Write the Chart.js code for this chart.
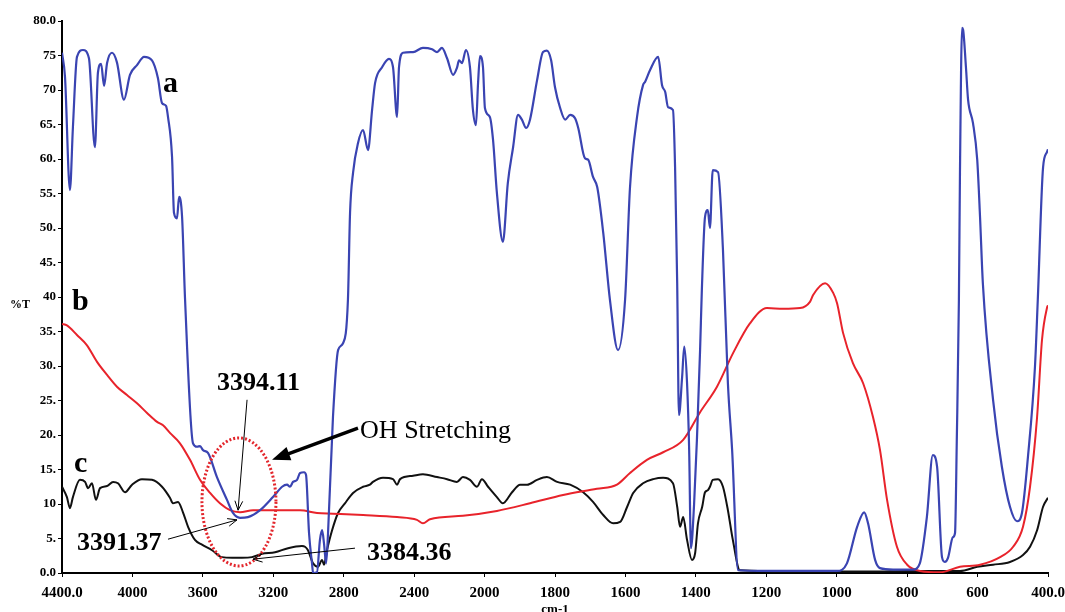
<!DOCTYPE html>
<html>
<head>
<meta charset="utf-8">
<script src="https://cdn.jsdelivr.net/npm/chart.js@4.4.1/dist/chart.umd.min.js"></script>
<style>
  body { margin: 0; background: #fff; }
  canvas { display: block; }
</style>
</head>
<body>
<canvas id="ftirChart" width="1065" height="612"></canvas>
<script>
// wavenumber (cm-1) and %T
let aWn = [4400, 4383, 4355, 4338, 4315, 4281, 4247, 4213, 4196, 4178, 4161, 4144, 4116, 4088, 4048, 4014, 3974, 3934, 3889, 3855, 3832, 3809, 3798, 3775, 3764, 3747, 3735, 3718, 3701, 3656, 3633, 3616, 3599, 3571, 3520, 3463, 3429, 3389, 3344, 3275, 3202, 3150, 3122, 3105, 3088, 3065, 3048, 3025, 3014, 2997, 2980, 2974, 2952, 2935, 2923, 2912, 2900, 2889, 2861, 2832, 2804, 2776, 2764, 2747, 2719, 2690, 2662, 2639, 2622, 2582, 2543, 2520, 2497, 2486, 2463, 2406, 2350, 2298, 2270, 2242, 2213, 2179, 2157, 2145, 2128, 2106, 2083, 2066, 2049, 2037, 2026, 2009, 1999, 1985, 1976, 1965, 1948, 1934, 1919, 1905, 1894, 1882, 1871, 1851, 1834, 1823, 1811, 1800, 1786, 1771, 1757, 1743, 1734, 1715, 1706, 1692, 1680, 1663, 1644, 1621, 1601, 1587, 1567, 1550, 1544, 1530, 1507, 1496, 1487, 1479, 1465, 1459, 1453, 1448, 1439, 1433, 1425, 1419, 1414, 1405, 1397, 1388, 1383, 1374, 1366, 1360, 1352, 1337, 1323, 1309, 1297, 1280, 1200, 1100, 999, 971, 942, 922, 911, 891, 877, 840, 783, 764, 744, 727, 715, 701, 693, 684, 670, 664, 659, 653, 650, 644, 641, 633, 627, 613, 601, 593, 585, 556, 531, 508, 488, 474, 457, 437, 429, 414, 403, 400];
let aT = [75.4, 71.9, 55.5, 64.6, 74.8, 75.8, 74.6, 61.7, 72.5, 73.8, 70.6, 73.9, 75.4, 74.0, 68.6, 72.2, 73.6, 74.8, 74.3, 71.7, 68.1, 67.7, 66.1, 60.3, 52.2, 51.4, 54.5, 51.6, 39.6, 18.8, 18.3, 18.4, 17.8, 17.4, 13.9, 10.6, 8.7, 8.0, 8.1, 9.1, 11.0, 12.5, 12.8, 12.5, 13.2, 13.5, 14.5, 14.6, 14.2, 5.8, 1.4, 0.0, 0.1, 4.8, 6.2, 4.3, 1.4, 5.8, 22.6, 32.3, 33.3, 39.6, 52.2, 58.0, 62.3, 64.2, 61.3, 67.1, 71.0, 73.3, 74.5, 73.3, 66.1, 73.3, 75.4, 75.5, 76.1, 75.9, 75.5, 76.1, 74.6, 72.2, 73.2, 74.3, 73.9, 75.8, 73.3, 67.1, 64.9, 71.0, 74.9, 73.3, 67.4, 66.1, 62.8, 55.1, 48.0, 56.5, 61.7, 66.4, 65.7, 64.5, 65.7, 71.4, 75.5, 75.7, 74.3, 70.4, 67.5, 65.7, 66.4, 65.9, 64.5, 60.1, 59.9, 57.4, 55.9, 49.3, 39.6, 32.3, 39.6, 55.9, 66.1, 70.7, 71.2, 72.9, 74.8, 70.7, 69.7, 67.5, 67.1, 58.8, 42.0, 22.9, 28.4, 32.8, 27.5, 17.8, 3.6, 10.0, 19.3, 32.3, 41.0, 51.6, 52.6, 50.0, 58.4, 58.1, 46.8, 27.5, 17.8, 0.4, 0.3, 0.3, 0.3, 1.4, 6.7, 8.8, 7.2, 1.9, 0.7, 0.5, 0.5, 1.4, 8.1, 17.1, 15.4, 2.3, 1.6, 2.2, 5.2, 5.8, 19.3, 39.6, 58.0, 79.0, 78.7, 73.3, 68.6, 65.2, 59.9, 51.6, 42.0, 25.1, 15.4, 9.6, 7.5, 8.7, 16.8, 29.9, 39.6, 58.8, 61.0, 61.4];

let bWn = [4400, 4372, 4315, 4258, 4201, 4144, 4088, 4031, 3974, 3917, 3860, 3826, 3787, 3730, 3673, 3616, 3559, 3503, 3446, 3389, 3315, 3048, 2952, 2861, 2690, 2497, 2384, 2350, 2310, 2123, 1965, 1871, 1777, 1681, 1624, 1587, 1539, 1493, 1436, 1388, 1340, 1294, 1246, 1198, 1152, 1104, 1076, 1067, 1033, 1010, 999, 982, 954, 925, 897, 877, 857, 829, 800, 764, 707, 650, 593, 536, 499, 471, 451, 431, 417, 403, 400];
let bT = [36.1, 35.9, 34.5, 33.0, 30.6, 28.7, 27.0, 25.8, 24.6, 23.2, 21.9, 21.4, 20.3, 18.8, 16.4, 13.5, 11.6, 10.1, 9.1, 8.8, 9.1, 9.1, 8.7, 8.6, 8.4, 8.1, 7.7, 7.2, 7.8, 8.3, 9.0, 10.1, 11.3, 12.2, 12.8, 14.5, 16.4, 17.5, 19.3, 23.3, 27.0, 31.9, 36.2, 38.4, 38.3, 38.4, 39.3, 40.3, 42.0, 40.6, 39.1, 34.8, 30.4, 27.5, 22.6, 17.8, 10.6, 3.8, 1.2, 0.3, 0.1, 0.9, 1.2, 2.3, 3.8, 6.7, 12.5, 22.6, 33.8, 38.4, 38.8];

let cWn = [4400, 4372, 4355, 4338, 4298, 4269, 4252, 4230, 4207, 4184, 4144, 4110, 4082, 4042, 4002, 3946, 3889, 3832, 3787, 3770, 3741, 3713, 3684, 3645, 3605, 3548, 3491, 3434, 3378, 3321, 3264, 3190, 3116, 3037, 3020, 3003, 2974, 2946, 2923, 2912, 2895, 2866, 2832, 2793, 2747, 2690, 2651, 2634, 2577, 2520, 2497, 2480, 2406, 2350, 2270, 2213, 2157, 2123, 2083, 2043, 2015, 1990, 1965, 1948, 1922, 1899, 1879, 1851, 1823, 1794, 1757, 1720, 1692, 1663, 1635, 1615, 1595, 1578, 1550, 1521, 1493, 1465, 1453, 1445, 1436, 1425, 1411, 1402, 1394, 1382, 1374, 1366, 1360, 1352, 1337, 1323, 1309, 1295, 1275, 1100, 900, 800, 650, 601, 556, 508, 471, 451, 431, 414, 400];
let cT = [12.5, 11.0, 9.4, 11.0, 13.5, 13.2, 12.3, 13.0, 10.6, 12.3, 12.6, 13.2, 13.0, 11.7, 12.8, 13.6, 13.5, 12.5, 10.9, 10.1, 10.3, 8.8, 6.7, 4.8, 4.1, 3.3, 2.3, 2.2, 2.2, 2.3, 2.8, 3.0, 3.6, 3.9, 3.8, 3.3, 1.4, 0.9, 1.9, 1.2, 3.3, 6.2, 8.7, 10.1, 11.6, 12.5, 12.8, 13.2, 13.8, 13.6, 12.8, 13.6, 14.1, 14.3, 13.9, 13.6, 13.2, 13.9, 13.5, 12.5, 13.6, 12.5, 11.0, 10.1, 11.7, 12.8, 12.8, 13.5, 13.9, 13.2, 12.8, 11.7, 10.3, 8.4, 7.2, 7.4, 9.6, 11.6, 13.0, 13.6, 13.8, 13.0, 9.6, 6.7, 8.1, 4.8, 1.9, 2.9, 7.2, 9.6, 11.7, 12.0, 12.5, 13.5, 13.6, 12.5, 9.1, 4.8, 0.4, 0.2, 0.2, 0.3, 0.3, 0.9, 1.2, 1.6, 2.6, 3.8, 6.2, 9.6, 10.9];

let xTicks = [4400, 4000, 3600, 3200, 2800, 2400, 2000, 1800, 1600, 1400, 1200, 1000, 800, 600, 400];
let xTickLabels = ['4400.0', '4000', '3600', '3200', '2800', '2400', '2000', '1800', '1600', '1400', '1200', '1000', '800', '600', '400.0'];
let yTickLabels = ['0.0', '5.', '10', '15.', '20.', '25.', '30.', '35.', '40', '45.', '50.', '55.', '60.', '65.', '70', '75', '80.0'];

// the spectrometer axis halves its scale below 2000 cm-1
function toAxis(wn) {
    return wn > 2000 ? 2000 + (wn - 2000) / 2 : wn;
}

function points(wn, t) {
    return wn.map((w, i) => ({ x: toAxis(w), y: t[i] }));
}

let serif = "'Liberation Serif', 'DejaVu Serif', serif";

// labels, arrows and the dotted ellipse over the OH band
let notes = {
    id: 'notes',
    afterDraw(chart) {
        let ctx = chart.ctx;
        let xs = chart.scales.x;
        let ys = chart.scales.y;
        let X = wn => xs.getPixelForValue(toAxis(wn));
        let Y = v => ys.getPixelForValue(v);

        ctx.save();
        ctx.fillStyle = '#000';
        ctx.textBaseline = 'alphabetic';
        ctx.textAlign = 'left';

        ctx.font = 'bold 30px ' + serif;
        ctx.fillText('a', X(3826), Y(69.7));
        ctx.fillText('b', X(4343), Y(38.1));
        ctx.fillText('c', X(4332), Y(14.6));

        ctx.font = 'bold 26px ' + serif;
        ctx.fillText('3394.11', X(3520), Y(26.5));
        ctx.fillText('3391.37', X(4315), Y(3.3));
        ctx.fillText('3384.36', X(2668), Y(1.9));

        ctx.font = '26px ' + serif;
        ctx.fillText('OH Stretching', X(2707), Y(19.6));

        // dotted ellipse
        ctx.strokeStyle = '#e3262c';
        ctx.lineWidth = 3;
        ctx.setLineDash([2, 2]);
        ctx.beginPath();
        ctx.ellipse(X(3395), Y(10.3), 37, 64, 0, 0, Math.PI * 2);
        ctx.stroke();
        ctx.setLineDash([]);

        // thick arrow from the OH label
        let x1 = X(2719), y1 = Y(21.0), x2 = X(3207), y2 = Y(16.4);
        let ang = Math.atan2(y2 - y1, x2 - x1);
        ctx.strokeStyle = '#000';
        ctx.lineWidth = 3.5;
        ctx.beginPath();
        ctx.moveTo(x1, y1);
        ctx.lineTo(x2 - 10 * Math.cos(ang), y2 - 10 * Math.sin(ang));
        ctx.stroke();
        ctx.beginPath();
        ctx.moveTo(x2, y2);
        ctx.lineTo(x2 - 18 * Math.cos(ang) + 7 * Math.sin(ang), y2 - 18 * Math.sin(ang) - 7 * Math.cos(ang));
        ctx.lineTo(x2 - 18 * Math.cos(ang) - 7 * Math.sin(ang), y2 - 18 * Math.sin(ang) + 7 * Math.cos(ang));
        ctx.closePath();
        ctx.fill();

        // thin arrows to the minima
        let thin = [
            [3349, 25.1, 3400, 9.1],
            [3798, 4.9, 3406, 7.7],
            [2736, 3.6, 3315, 2.0]
        ];
        ctx.lineWidth = 1;
        thin.forEach(a => {
            let ax = X(a[0]), ay = Y(a[1]), bx = X(a[2]), by = Y(a[3]);
            let t = Math.atan2(by - ay, bx - ax);
            ctx.beginPath();
            ctx.moveTo(ax, ay);
            ctx.lineTo(bx, by);
            ctx.moveTo(bx - 10 * Math.cos(t - 0.4), by - 10 * Math.sin(t - 0.4));
            ctx.lineTo(bx, by);
            ctx.lineTo(bx - 10 * Math.cos(t + 0.4), by - 10 * Math.sin(t + 0.4));
            ctx.stroke();
        });

        // axis titles
        ctx.font = 'bold 12px ' + serif;
        ctx.fillText('%T', 10, 308);
        ctx.font = 'bold 13px ' + serif;
        ctx.textAlign = 'center';
        ctx.textBaseline = 'top';
        ctx.fillText('cm-1', (chart.chartArea.left + chart.chartArea.right) / 2, 603);
        ctx.restore();
    }
};

let ftirChart = new Chart(document.getElementById('ftirChart'), {
    type: 'line',
    data: {
        datasets: [{
            label: 'a',
            data: points(aWn, aT),
            borderColor: '#3a44b2',
            borderWidth: 2.2,
            pointRadius: 0,
            cubicInterpolationMode: 'monotone'
        }, {
            label: 'b',
            data: points(bWn, bT),
            borderColor: '#e8232b',
            borderWidth: 2,
            pointRadius: 0,
            cubicInterpolationMode: 'monotone'
        }, {
            label: 'c',
            data: points(cWn, cT),
            borderColor: '#111111',
            borderWidth: 2,
            pointRadius: 0,
            cubicInterpolationMode: 'monotone'
        }]
    },
    options: {
        responsive: false,
        animation: false,
        layout: { padding: { top: 21, right: 17, left: 0, bottom: 0 } },
        plugins: { legend: { display: false }, tooltip: { enabled: false } },
        scales: {
            x: {
                type: 'linear',
                reverse: true,
                min: 400,
                max: 3200,
                afterBuildTicks: axis => {
                    axis.ticks = xTicks.map(w => ({ value: toAxis(w) })).reverse();
                },
                afterFit: axis => { axis.height = 39; },
                ticks: {
                    autoSkip: false,
                    maxRotation: 0,
                    padding: 7,
                    color: '#000',
                    font: { family: serif, size: 15, weight: 'bold' },
                    callback: value => xTickLabels[xTicks.findIndex(w => toAxis(w) === value)]
                },
                grid: { drawOnChartArea: false, tickLength: 4, color: '#000' },
                border: { color: '#000', width: 2 }
            },
            y: {
                min: 0,
                max: 80,
                afterFit: axis => { axis.width = 62; },
                ticks: {
                    stepSize: 5,
                    padding: 2,
                    color: '#000',
                    font: { family: serif, size: 13, weight: 'bold' },
                    callback: value => yTickLabels[value / 5]
                },
                grid: { drawOnChartArea: false, tickLength: 4, color: '#000' },
                border: { color: '#000', width: 2 }
            }
        }
    },
    plugins: [notes]
});
</script>
</body>
</html>
